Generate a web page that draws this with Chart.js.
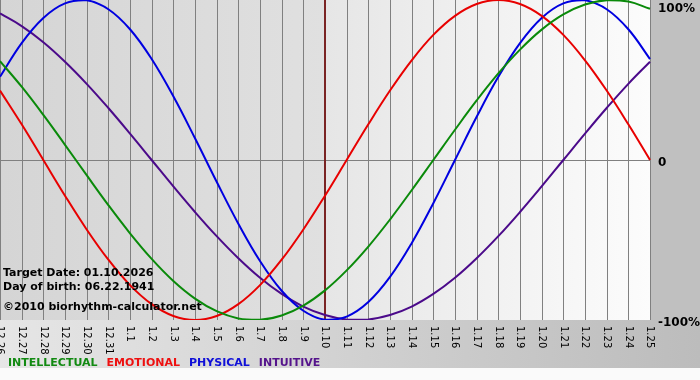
<!DOCTYPE html>
<html>
<head>
<meta charset="utf-8">
<script src="https://cdn.jsdelivr.net/npm/chart.js@4/dist/chart.umd.min.js"></script>
<style>
html,body{margin:0;padding:0;background:#fff;}
canvas{display:block;}
</style>
</head>
<body>
<canvas id="c" width="700" height="380"></canvas>
<script>
const categories = ["12.26","12.27","12.28","12.29","12.30","12.31","1.1","1.2","1.3","1.4","1.5","1.6","1.7","1.8","1.9","1.10","1.11","1.12","1.13","1.14","1.15","1.16","1.17","1.18","1.19","1.20","1.21","1.22","1.23","1.24","1.25"];
const intellectual = [61.8,45.8,28.2,9.5,-9.5,-28.2,-45.8,-61.8,-75.6,-86.6,-94.5,-99.0,-99.9,-97.2,-91.0,-81.5,-69.0,-54.1,-37.2,-18.9,0,18.9,37.2,54.1,69.0,81.5,91.0,97.2,99.9,99.0,94.5];
const emotional = [43.4,22.3,0,-22.3,-43.4,-62.3,-78.2,-90.1,-97.5,-100,-97.5,-90.1,-78.2,-62.3,-43.4,-22.3,0,22.3,43.4,62.3,78.2,90.1,97.5,100,97.5,90.1,78.2,62.3,43.4,22.3,0];
const physical = [52.0,73.1,88.8,97.9,99.8,94.2,81.7,63.1,39.8,13.6,-13.6,-39.8,-63.1,-81.7,-94.2,-99.8,-97.9,-88.8,-73.1,-52.0,-27.0,0,27.0,52.0,73.1,88.8,97.9,99.8,94.2,81.7,63.1];
const intuitive = [91.6,83.7,73.6,61.4,47.6,32.5,16.5,0,-16.5,-32.5,-47.6,-61.4,-73.6,-83.7,-91.6,-96.9,-99.7,-99.7,-96.9,-91.6,-83.7,-73.6,-61.4,-47.6,-32.5,-16.5,0,16.5,32.5,47.6,61.4];
const yTicks = [100, 0, -100];
const yTickLabels = ["100%", "0", "-100%"];
const targetLabel = "1.10";
const infoLines = ["Target Date: 01.10.2026", "Day of birth: 06.22.1941", "\u00A92010 biorhythm-calculator.net"];
const seriesNames = ["INTELLECTUAL", "EMOTIONAL", "PHYSICAL", "INTUITIVE"];

const COLORS = {
  INTELLECTUAL: "#0a8a0a",
  EMOTIONAL: "#e80000",
  PHYSICAL: "#0000e0",
  INTUITIVE: "#4b0a8a"
};
const LEGEND_COLORS = {
  INTELLECTUAL: "#128a12",
  EMOTIONAL: "#ee1010",
  PHYSICAL: "#1010d8",
  INTUITIVE: "#55148c"
};

const bgPlugin = {
  id: "bg",
  beforeDraw(chart) {
    const ctx = chart.ctx, W = chart.width, H = chart.height;
    const ca = chart.chartArea;
    ctx.save();
    ctx.fillStyle = "#fafafa";
    ctx.fillRect(0, 0, W, H);
    let g = ctx.createLinearGradient(0, 0, W, 0);
    g.addColorStop(0, "#e6e6e6");
    g.addColorStop(1, "#bcbcbc");
    ctx.fillStyle = g;
    ctx.fillRect(0, 0, W, 368);
    ctx.fillStyle = "#c0c0c0";
    ctx.fillRect(ca.right, 0, W - ca.right, ca.bottom);
    const xs = chart.scales.x;
    const tx = xs.getPixelForValue(categories.indexOf(targetLabel));
    g = ctx.createLinearGradient(ca.left, 0, tx, 0);
    g.addColorStop(0, "#d5d5d5");
    g.addColorStop(1, "#e0e0e0");
    ctx.fillStyle = g;
    ctx.fillRect(ca.left, ca.top, tx - ca.left, ca.bottom - ca.top);
    g = ctx.createLinearGradient(tx, 0, ca.right, 0);
    g.addColorStop(0, "#e6e6e6");
    g.addColorStop(1, "#fcfcfc");
    ctx.fillStyle = g;
    ctx.fillRect(tx, ca.top, ca.right - tx, ca.bottom - ca.top);
    ctx.restore();
  },
  beforeDatasetsDraw(chart) {
    const ctx = chart.ctx, ca = chart.chartArea;
    const xs = chart.scales.x, ys = chart.scales.y;
    ctx.save();
    ctx.strokeStyle = "#808080";
    ctx.lineWidth = 1;
    ctx.beginPath();
    categories.forEach((c, i) => {
      const x = Math.round(xs.getPixelForValue(i)) + 0.5;
      ctx.moveTo(x, ca.top);
      ctx.lineTo(x, ca.bottom);
    });
    const y0 = Math.round(ys.getPixelForValue(0)) + 0.5;
    ctx.moveTo(ca.left, y0);
    ctx.lineTo(ca.right, y0);
    ctx.stroke();
    const tx = Math.round(xs.getPixelForValue(categories.indexOf(targetLabel)));
    ctx.strokeStyle = "#7a2424";
    ctx.lineWidth = 2;
    ctx.beginPath();
    ctx.moveTo(tx, ca.top);
    ctx.lineTo(tx, ca.bottom);
    ctx.stroke();
    ctx.restore();
  },
  afterDatasetsDraw(chart) {
    const ctx = chart.ctx, ca = chart.chartArea;
    const xs = chart.scales.x, ys = chart.scales.y;
    ctx.save();
    // x labels rotated clockwise
    ctx.fillStyle = "#000";
    ctx.font = "10px 'DejaVu Sans'";
    ctx.textAlign = "left";
    ctx.textBaseline = "middle";
    categories.forEach((c, i) => {
      const x = xs.getPixelForValue(i);
      ctx.save();
      ctx.translate(x, ca.bottom + 6);
      ctx.rotate(Math.PI / 2);
      ctx.fillText(c, 0, 0);
      ctx.restore();
    });
    // y labels
    ctx.font = "bold 12px 'DejaVu Sans'";
    ctx.textBaseline = "alphabetic";
    yTicks.forEach((v, i) => {
      const y = Math.max(ys.getPixelForValue(v) + 6, 12);
      ctx.fillText(yTickLabels[i], ca.right + 8, y);
    });
    // info text
    ctx.font = "bold 11px 'DejaVu Sans'";
    const infoY = [276, 290, 310];
    infoLines.forEach((t, i) => ctx.fillText(t, 3, infoY[i]));
    // legend
    let lx = 8;
    seriesNames.forEach((n) => {
      ctx.fillStyle = LEGEND_COLORS[n];
      ctx.fillText(n, lx, 366);
      lx += ctx.measureText(n).width + 9;
    });
    ctx.restore();
  }
};

new Chart(document.getElementById("c"), {
  type: "line",
  data: {
    labels: categories,
    datasets: [
      { label: "INTELLECTUAL", data: intellectual, borderColor: COLORS.INTELLECTUAL },
      { label: "EMOTIONAL", data: emotional, borderColor: COLORS.EMOTIONAL },
      { label: "PHYSICAL", data: physical, borderColor: COLORS.PHYSICAL },
      { label: "INTUITIVE", data: intuitive, borderColor: COLORS.INTUITIVE }
    ].map(d => Object.assign(d, { borderWidth: 2, pointRadius: 0, tension: 0.4, fill: false }))
  },
  options: {
    responsive: false,
    animation: false,
    devicePixelRatio: 1,
    layout: { padding: { left: 0, right: 50, top: 0, bottom: 60 } },
    plugins: { legend: { display: false }, tooltip: { enabled: false } },
    scales: {
      x: { display: false, offset: false },
      y: { display: false, min: -100, max: 100 }
    }
  },
  plugins: [bgPlugin]
});
</script>
</body>
</html>
